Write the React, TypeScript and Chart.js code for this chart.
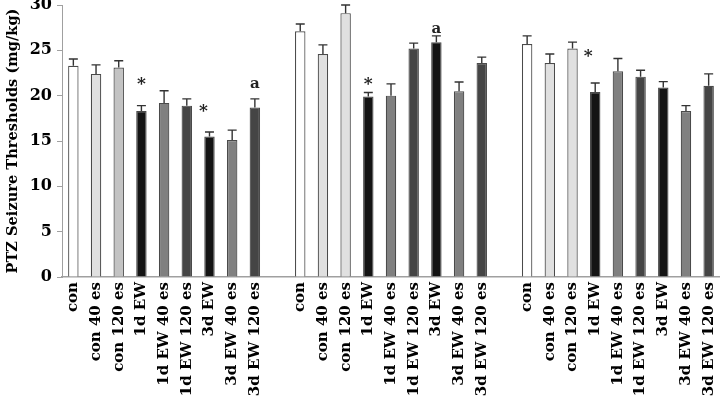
import React, { useEffect, useRef } from 'react';
import { Chart, registerables } from 'chart.js';

Chart.register(...registerables);

// ---- data ----
const groupLabels = ['con', 'con 40 es', 'con 120 es', '1d EW', '1d EW 40 es', '1d EW 120 es', '3d EW', '3d EW 40 es', '3d EW 120 es'];
const values1 = [23.3, 22.4, 23.1, 18.3, 19.2, 18.9, 15.5, 15.1, 18.7];
const errors1 = [0.75, 1.0, 0.75, 0.6, 1.35, 0.75, 0.5, 1.1, 0.95];
const values2 = [27.1, 24.6, 29.1, 19.9, 20.0, 25.2, 25.9, 20.5, 23.6];
const errors2 = [0.8, 1.0, 0.9, 0.45, 1.3, 0.6, 0.7, 1.0, 0.65];
const values3 = [25.7, 23.6, 25.2, 20.4, 22.7, 22.1, 20.9, 18.3, 21.1];
const errors3 = [0.9, 1.0, 0.7, 1.0, 1.4, 0.7, 0.65, 0.6, 1.3];
const marks1 = ['', '', '', '*', '', '', '*', '', 'a'];
const marks2 = ['', '', '', '*', '', '', 'a', '', ''];
const marks3 = ['', '', '', '*', '', '', '', '', ''];
const markLevels1 = [null, null, null, 21.5, null, null, 18.6, null, 21.3];
const markLevels2 = [null, null, null, 21.5, null, null, 27.35, null, null];
const markLevels3 = [null, null, null, 24.6, null, null, null, null, null];
const yTicks = [0, 5, 10, 15, 20, 25, 30];

// ---- styles ----
const fillPattern = ['#ffffff', '#e0e0e0', '#e0e0e0', '#141414', '#808080', '#454545', '#141414', '#808080', '#454545'];
const group1Con120 = '#c3c3c3';
const markShift1 = [0, 0, 0, 0, 0, 0, -6, 0, 0];
const markShift2 = [0, 0, 0, 0, 0, 0, 0, 0, 0];
const markShift3 = [0, 0, 0, -7, 0, 0, 0, 0, 0];

// ---- build combined arrays (gap category between groups) ----
const labels: string[] = [...groupLabels, '', ...groupLabels, '', ...groupLabels];
const values: (number | null)[] = [...values1, null, ...values2, null, ...values3];
const errors: (number | null)[] = [...errors1, null, ...errors2, null, ...errors3];
const marks: string[] = [...marks1, '', ...marks2, '', ...marks3];
const markLevels: (number | null)[] = [...markLevels1, null, ...markLevels2, null, ...markLevels3];
const markShift: number[] = [...markShift1, 0, ...markShift2, 0, ...markShift3];
const fills: string[] = [...fillPattern, '#fff', ...fillPattern, '#fff', ...fillPattern];
fills[2] = group1Con120;

const SERIF = '"DejaVu Serif", serif';

const errorBarPlugin = {
  id: 'errorBars',
  afterDatasetsDraw(chart: any) {
    const { ctx, scales } = chart;
    const meta = chart.getDatasetMeta(0);
    const y = scales.y;
    ctx.save();
    ctx.strokeStyle = '#333333';
    ctx.lineWidth = 1.4;
    meta.data.forEach((bar: any, i: number) => {
      const v = values[i];
      const e = errors[i];
      if (v == null || e == null) return;
      const x = bar.x;
      const y0 = y.getPixelForValue(v);
      const y1 = y.getPixelForValue(v + e);
      ctx.beginPath();
      ctx.moveTo(x, y0);
      ctx.lineTo(x, y1);
      ctx.moveTo(x - 4.5, y1);
      ctx.lineTo(x + 4.5, y1);
      ctx.stroke();
    });
    ctx.fillStyle = '#222222';
    ctx.textAlign = 'center';
    ctx.textBaseline = 'middle';
    meta.data.forEach((bar: any, i: number) => {
      const m = marks[i];
      const lv = markLevels[i];
      if (!m || lv == null) return;
      ctx.font = m === '*' ? `bold 17px ${SERIF}` : `bold 15px ${SERIF}`;
      const yy = y.getPixelForValue(lv) + (m === '*' ? 3 : 0);
      ctx.fillText(m, bar.x + markShift[i], yy);
    });
    ctx.restore();
  },
};

export default function App() {
  const ref = useRef<HTMLCanvasElement | null>(null);
  useEffect(() => {
    if (!ref.current) return;
    const chart = new Chart(ref.current, {
      type: 'bar',
      data: {
        labels,
        datasets: [
          {
            data: values as any,
            backgroundColor: fills,
            borderColor: '#4a4a4a',
            borderWidth: 1.2,
            barPercentage: 0.46,
            categoryPercentage: 1,
          },
        ],
      },
      options: {
        animation: false,
        responsive: false,
        devicePixelRatio: 1,
        layout: { padding: { top: 0, right: 0, bottom: 0, left: 0 } },
        plugins: {
          legend: { display: false },
          tooltip: { enabled: false },
        },
        scales: {
          x: {
            grid: { display: false, drawTicks: false },
            border: { display: true, color: '#a0a0a0', width: 1.5 },
            ticks: {
              autoSkip: false,
              minRotation: 90,
              maxRotation: 90,
              padding: 5,
              color: '#000',
              font: { family: SERIF, size: 15, weight: 'bold' },
            },
            afterFit: (s: any) => {
              s.height = 123;
              s.paddingLeft = 0;
              s.paddingRight = 0;
            },
          },
          y: {
            min: 0,
            max: 30,
            afterBuildTicks: (s: any) => {
              s.ticks = yTicks.map((v) => ({ value: v }));
            },
            grid: { drawOnChartArea: false, drawTicks: true, tickLength: 5, color: '#a0a0a0' },
            border: { display: true, color: '#a0a0a0', width: 1 },
            ticks: {
              padding: 5,
              color: '#000',
              font: { family: SERIF, size: 16, weight: 'bold' },
            },
            title: {
              display: true,
              text: 'PTZ Seizure Thresholds (mg/kg)',
              color: '#000',
              font: { family: SERIF, size: 14.6, weight: 'bold' },
              padding: { top: 4, bottom: 4 },
            },
            afterFit: (s: any) => {
              s.width = 62;
              s.paddingTop = 5;
              s.paddingBottom = 0;
            },
          },
        },
      },
      plugins: [errorBarPlugin],
    });
    return () => chart.destroy();
  }, []);
  return (
    <div style={{ position: 'fixed', left: 0, top: 0, width: 720, height: 400, background: '#fff' }}>
      <canvas ref={ref} width={720} height={400} style={{ display: 'block', width: 720, height: 400 }} />
    </div>
  );
}
